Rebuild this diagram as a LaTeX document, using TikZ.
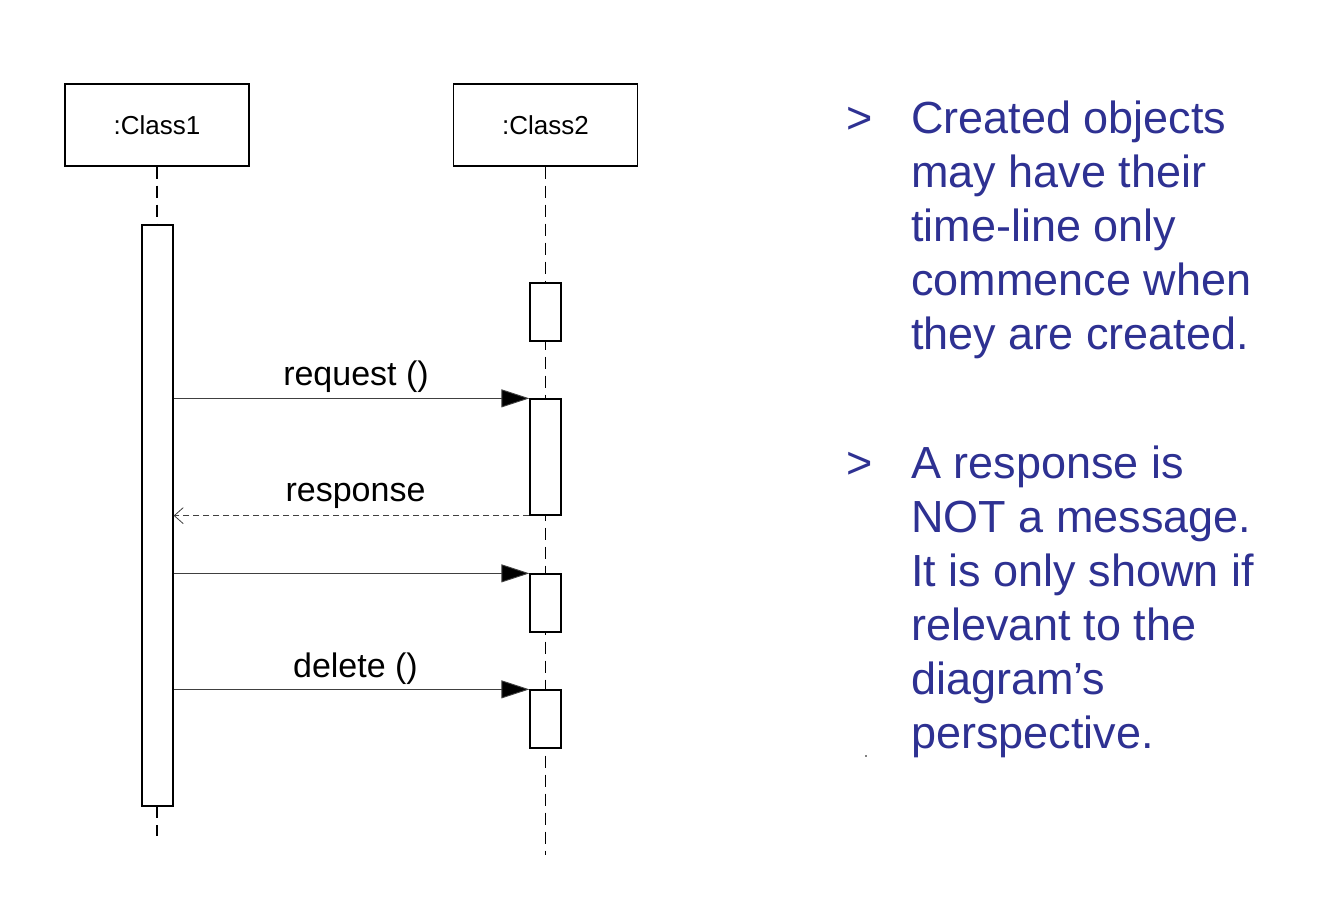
\documentclass[tikz,border=0pt]{standalone}
\usepackage{fontspec}
\setmainfont{Liberation Sans}
\usetikzlibrary{arrows.meta}
\definecolor{txtblue}{RGB}{46,49,146}
\tikzset{
  objbox/.style={draw=black, line width=1.3pt, fill=white, minimum width=184pt, minimum height=82pt, inner sep=0pt, font=\fontsize{26}{30}\selectfont},
  actbox/.style={draw=black, line width=1.3pt, fill=white},
  lifeline/.style={line width=1.2pt, dash pattern=on 12pt off 7pt},
  msg/.style={line width=0.9pt, draw=black!75, -{Triangle[length=28pt,width=18pt,fill=black]}},
  reply/.style={line width=0.9pt, draw=black!75, dash pattern=on 6pt off 4pt, -{Straight Barb[length=9pt,width=16pt,line width=0.8pt]}},
  msglabel/.style={font=\fontsize{34}{38}\selectfont, anchor=base, inner sep=0pt},
  note/.style={text=txtblue, font=\fontsize{45}{54}\selectfont, anchor=base west, inner sep=0pt}
}
\begin{document}
\begin{tikzpicture}[x=1pt,y=-1pt]
\useasboundingbox (0,0) rectangle (1324,910);
% objects
\node[objbox] (c1) at (157,125) {:Class1};
\node[objbox] (c2) at (545.5,125) {:Class2};
% lifeline coordinates
\coordinate (l1end) at (157,836);
\coordinate (l2end) at (545.5,855);
% lifelines
\draw[lifeline] (c1.south) -- (157,225);
\draw[lifeline] (157,806) -- (l1end);
\draw[lifeline] (c2.south) -- (l2end);
% activation 1
\node[actbox, minimum width=31pt, minimum height=581pt, inner sep=0pt] (a1) at (157.5,515.5) {};
% activations on class2
\node[actbox, minimum width=31pt, minimum height=58pt, inner sep=0pt] (b1) at (545.5,312) {};
\node[actbox, minimum width=31pt, minimum height=116pt, inner sep=0pt] (b2) at (545.5,457) {};
\node[actbox, minimum width=31pt, minimum height=58pt, inner sep=0pt] (b3) at (545.5,603) {};
\node[actbox, minimum width=31pt, minimum height=58pt, inner sep=0pt] (b4) at (545.5,719) {};
% messages
\draw[msg] (a1.east |- b2.north) -- (b2.north west);
\node[msglabel] (m1) at (356,385) {request ()};
\draw[reply] (b2.south west) -- (a1.east |- b2.south);
\node[msglabel] (m2) at (355.5,501) {response};
\draw[msg] (a1.east |- b3.north) -- (b3.north west);
\draw[msg] (a1.east |- b4.north) -- (b4.north west);
\node[msglabel] (m4) at (355.5,677) {delete ()};
% notes
\node[note] (g1) at (846,133) {>};
\node[note] (t11) at (911,133) {Created objects};
\node[note] (t12) at (911,187) {may have their};
\node[note] (t13) at (911,241) {time-line only};
\node[note] (t14) at (911,295) {commence when};
\node[note] (t15) at (911,349) {they are created.};
\node[note] (g2) at (846,478) {>};
\node[note] (t21) at (911,478) {A response is};
\node[note] (t22) at (911,532) {NOT a message.};
\node[note] (t23) at (911,586) {It is only shown if};
\node[note] (t24) at (911,640) {relevant to the};
\node[note] (t25) at (911,694) {diagram’s};
\node[note] (t26) at (911,748) {perspective.};
\fill[black] (866,756) circle (0.8);
\end{tikzpicture}
\end{document}
